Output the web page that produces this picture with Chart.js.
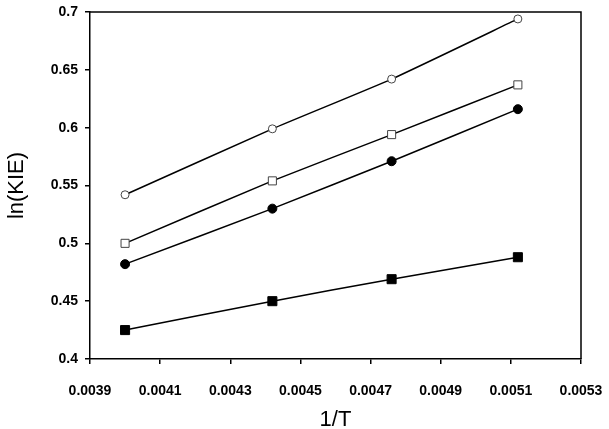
<!DOCTYPE html>
<html>
<head>
<meta charset="utf-8">
<script src="https://cdn.jsdelivr.net/npm/chart.js@4"></script>
<style>
  html, body { margin: 0; padding: 0; background: #fff; }
  #wrap { width: 609px; height: 429px; }
</style>
</head>
<body>
<div id="wrap"><canvas id="kieChart" width="609" height="429"></canvas></div>
<script>
const invT = [0.00400, 0.00442, 0.00476, 0.00512];
const openCircle = [0.542, 0.599, 0.642, 0.694];
const openSquare = [0.500, 0.554, 0.594, 0.637];
const filledCircle = [0.482, 0.530, 0.571, 0.616];
const filledSquare = [0.425, 0.450, 0.469, 0.488];
const xTicks = [0.0039, 0.0041, 0.0043, 0.0045, 0.0047, 0.0049, 0.0051, 0.0053];
const yTicks = [0.4, 0.45, 0.5, 0.55, 0.6, 0.65, 0.7];

(() => {
  const font = "'Liberation Sans', Arial, sans-serif";
  const pts = ys => invT.map((x, i) => ({ x, y: ys[i] }));

  function series(ys, style, radius, filled) {
    return {
      data: pts(ys),
      showLine: true,
      borderColor: '#000',
      borderWidth: 1.5,
      tension: 0.15,
      pointStyle: style,
      pointRadius: radius,
      pointBorderWidth: 1,
      pointBorderColor: filled ? '#000' : '#444',
      pointBackgroundColor: filled ? '#000' : '#fff'
    };
  }

  // top and right edges of the plot frame
  const frame = {
    id: 'frame',
    afterDraw(chart) {
      const { ctx, chartArea: a } = chart;
      ctx.save();
      ctx.strokeStyle = '#000';
      ctx.lineWidth = 1.5;
      ctx.beginPath();
      ctx.moveTo(a.left, a.top);
      ctx.lineTo(a.right, a.top);
      ctx.lineTo(a.right, a.bottom);
      ctx.stroke();
      ctx.restore();
    }
  };

  const ctx = document.getElementById('kieChart').getContext('2d');
  new Chart(ctx, {
    type: 'scatter',
    data: {
      datasets: [
        series(openCircle, 'circle', 4, false),
        series(openSquare, 'rect', 5.7, false),
        series(filledCircle, 'circle', 4.5, true),
        series(filledSquare, 'rect', 6.4, true)
      ]
    },
    options: {
      responsive: false,
      animation: false,
      layout: { padding: { top: 12, right: 28, left: 0, bottom: 0 } },
      plugins: { legend: { display: false }, tooltip: { enabled: false } },
      scales: {
        x: {
          type: 'linear',
          min: xTicks[0],
          max: xTicks[xTicks.length - 1],
          afterFit: s => { s.height = 70; s.paddingLeft = 0; s.paddingRight = 0; },
          afterBuildTicks: s => { s.ticks = xTicks.map(v => ({ value: v })); },
          grid: { drawOnChartArea: false, drawTicks: true, tickLength: 5, color: '#000', lineWidth: 1.5 },
          border: { display: true, color: '#000', width: 1.5 },
          ticks: {
            color: '#000',
            padding: 19,
            maxRotation: 0,
            font: { family: font, size: 14, weight: 'bold' },
            callback: v => v.toFixed(4)
          },
          title: {
            display: true,
            text: '1/T',
            color: '#000',
            font: { family: font, size: 22 },
            padding: { top: 4, bottom: -4 }
          }
        },
        y: {
          min: yTicks[0],
          max: yTicks[yTicks.length - 1],
          afterFit: s => { s.width = 90; s.paddingTop = 0; s.paddingBottom = 0; },
          afterBuildTicks: s => { s.ticks = yTicks.map(v => ({ value: v })); },
          grid: { drawOnChartArea: false, drawTicks: true, tickLength: 5, color: '#000', lineWidth: 1.5 },
          border: { display: true, color: '#000', width: 1.5 },
          ticks: {
            color: '#000',
            padding: 7,
            font: { family: font, size: 14, weight: 'bold' },
            callback: v => String(+v.toFixed(2))
          },
          title: {
            display: true,
            text: 'ln(KIE)',
            color: '#000',
            font: { family: font, size: 22 },
            padding: { top: 4, bottom: 0 }
          }
        }
      }
    },
    plugins: [frame]
  });
})();
</script>
</body>
</html>
